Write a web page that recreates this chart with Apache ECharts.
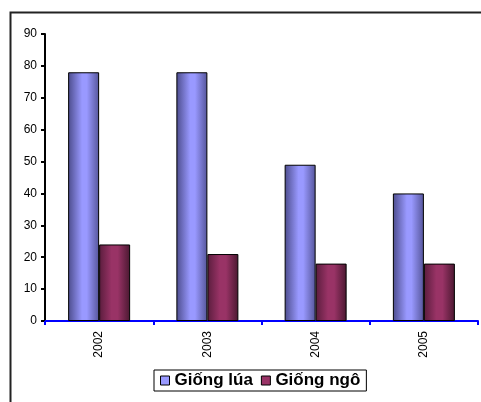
<!DOCTYPE html>
<html>
<head>
<meta charset="utf-8">
<style>html,body{margin:0;padding:0;background:#fff;}#c{width:481px;height:402px;}</style>
<script src="https://cdn.jsdelivr.net/npm/echarts@6/dist/echarts.min.js"></script>
</head>
<body>
<div id="c"></div>
<script>
const categories = ['2002', '2003', '2004', '2005'];
const seriesNames = ['Giống lúa', 'Giống ngô'];
const rice = [78, 78, 49, 40];
const corn = [24, 21, 18, 18];

const chart = echarts.init(document.getElementById('c'), null, {renderer: 'canvas'});
const blueGrad = new echarts.graphic.LinearGradient(0, 0, 1, 0, [
  {offset: 0, color: '#4c4c8c'},
  {offset: 0.45, color: '#9999ff'},
  {offset: 0.6, color: '#9999ff'},
  {offset: 1, color: '#55559a'}
]);
const redGrad = new echarts.graphic.LinearGradient(0, 0, 1, 0, [
  {offset: 0, color: '#5a1d3d'},
  {offset: 0.4, color: '#993366'},
  {offset: 0.6, color: '#993366'},
  {offset: 1, color: '#4a1830'}
]);
const font = 'Liberation Sans, Arial, sans-serif';
chart.setOption({
  animation: false,
  textStyle: {fontFamily: font},
  graphic: [{
    type: 'rect', left: 8, top: 10, z: -10,
    shape: {x: 0, y: 0, width: 480, height: 400},
    style: {fill: 'none', stroke: '#222', lineWidth: 2}
  }],
  grid: {left: 45, right: 3, top: 34, bottom: 81, containLabel: false},
  legend: {
    top: 370, left: 154,
    data: [
      {name: seriesNames[0], itemStyle: {color: '#9999ff', borderColor: '#000', borderWidth: 1}},
      {name: seriesNames[1], itemStyle: {color: '#993366', borderColor: '#000', borderWidth: 1}}
    ],
    icon: 'rect', itemWidth: 9, itemHeight: 9, itemGap: 8,
    borderColor: '#000', borderWidth: 1, padding: [2, 6, 2, 6],
    textStyle: {fontFamily: font, fontWeight: 'bold', fontSize: 17, color: '#000'}
  },
  xAxis: {
    type: 'category', data: categories,
    axisLine: {lineStyle: {color: '#0000ff', width: 2}},
    axisTick: {show: true, length: 4, lineStyle: {color: '#0000ff', width: 2}},
    axisLabel: {rotate: 90, color: '#000', fontSize: 12, fontFamily: font, margin: 10}
  },
  yAxis: {
    type: 'value', min: 0, max: 90, interval: 10,
    splitLine: {show: false},
    axisLine: {show: true, lineStyle: {color: '#000', width: 2}},
    axisTick: {show: true, length: 4, lineStyle: {color: '#000', width: 2}},
    axisLabel: {color: '#000', fontSize: 12, fontFamily: font, margin: 8}
  },
  series: [
    {name: seriesNames[0], type: 'bar', data: rice, barWidth: 31, barGap: '0%',
     itemStyle: {color: blueGrad, borderColor: '#000', borderWidth: 1}},
    {name: seriesNames[1], type: 'bar', data: corn, barWidth: 31,
     itemStyle: {color: redGrad, borderColor: '#000', borderWidth: 1}}
  ]
});
</script>
</body>
</html>
